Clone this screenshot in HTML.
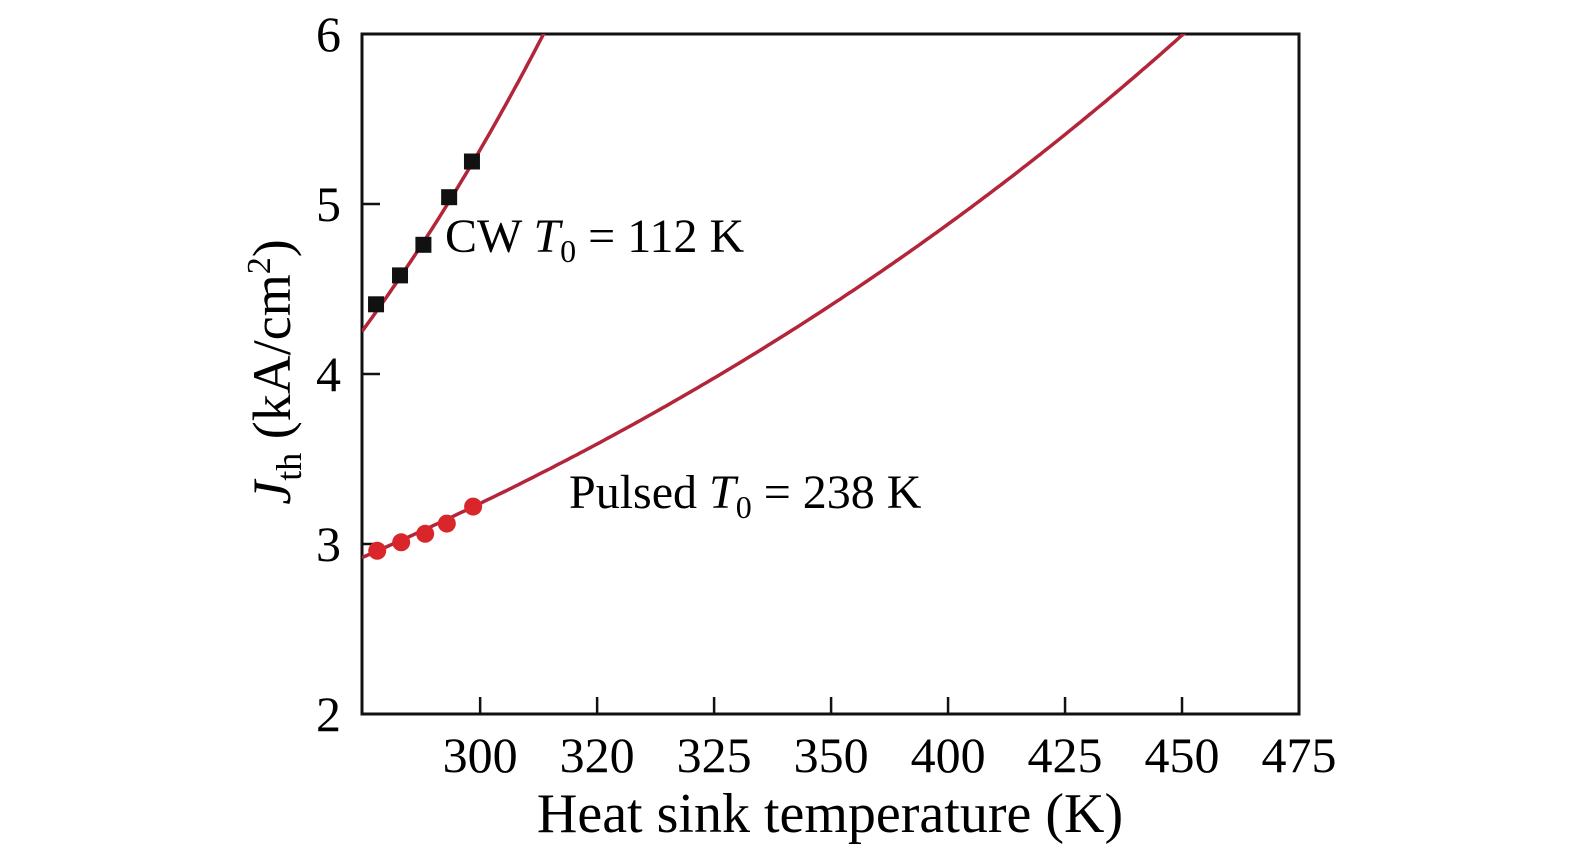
<!DOCTYPE html>
<html><head><meta charset="utf-8"><style>
html,body{margin:0;padding:0;background:#fff;}
svg{display:block;font-family:"Liberation Serif",serif;}
</style></head><body>
<svg id="chart" width="1575" height="852" viewBox="0 0 1575 852" xmlns="http://www.w3.org/2000/svg">
<g id="axes"></g>
<g id="series"></g>
<text x="445" y="252" font-size="48">CW <tspan font-style="italic">T</tspan><tspan font-size="32" dy="10">0</tspan><tspan dy="-10"> = 112 K</tspan></text>
<text x="569" y="508" font-size="48">Pulsed <tspan font-style="italic">T</tspan><tspan font-size="32" dy="10">0</tspan><tspan dy="-10"> = 238 K</tspan></text>
<text x="830" y="832" font-size="56" text-anchor="middle">Heat sink temperature (K)</text>
<text transform="translate(290,372) rotate(-90)" font-size="54" text-anchor="middle"><tspan font-style="italic">J</tspan><tspan font-size="36" dy="11">th</tspan><tspan dy="-11"> (kA/cm</tspan><tspan font-size="34" dy="-20">2</tspan><tspan dy="20">)</tspan></text>
</svg>
<script>
const xTickValues=[300,320,340,360,380,400,420,440];
const xTickLabels=["300","320","325","350","400","425","450","475"];
const yTickValues=[2,3,4,5,6];
const cwX=[282.2,286.3,290.3,294.7,298.6];
const cwY=[4.41,4.58,4.76,5.04,5.25];
const pulsedX=[282.4,286.5,290.6,294.3,298.8];
const pulsedY=[2.96,3.01,3.06,3.12,3.22];
const cwFit=[4.25,90];
const pulsedFit=[2.92,195];

const L=362,R=1299,T=34,B=714;
const xMin=279.8,xMax=300+(R-480)/117*20;
const yMin=2,yMax=6;
const sx=v=>L+(v-xMin)/(xMax-xMin)*(R-L);
const sy=v=>B-(v-yMin)/(yMax-yMin)*(B-T);
const NS="http://www.w3.org/2000/svg";
const ax=document.getElementById('axes'),se=document.getElementById('series');
function mk(tag,attrs,parent){const e=document.createElementNS(NS,tag);for(const k in attrs)e.setAttribute(k,attrs[k]);parent.appendChild(e);return e;}
const frame=mk('rect',{x:L,y:T,width:R-L,height:B-T,fill:'none',stroke:'#111','stroke-width':3},ax);


xTickValues.forEach((v,i)=>{
  const t=mk('line',{x1:sx(v),x2:sx(v),y1:B,y2:B-17,stroke:'#111','stroke-width':2.5},ax);
  
  
  const l=mk('text',{x:sx(v),y:772,'font-size':50,'text-anchor':'middle'},ax);
  l.textContent=xTickLabels[i];
  
  
});
yTickValues.forEach(v=>{
  const t=mk('line',{x1:L,x2:L+18,y1:sy(v),y2:sy(v),stroke:'#111','stroke-width':2.5},ax);
  
  
  const l=mk('text',{x:341,y:sy(v)+17,'font-size':50,'text-anchor':'end'},ax);
  l.textContent=v;
  
  
});
const clip=mk('clipPath',{id:'pc'},se);mk('rect',{x:L,y:T,width:R-L,height:B-T},clip);
function fitPath(p,name){
  let d='';for(let i=0;i<=300;i++){const v=xMin+(xMax-xMin)*i/300;const y=p[0]*Math.exp((v-xMin)/p[1]);d+=(i?'L':'M')+sx(v).toFixed(1)+','+sy(y).toFixed(1);}
  const e=mk('path',{d:d,fill:'none',stroke:'#b3263a','stroke-width':3.5,'clip-path':'url(#pc)'},se);
  
  
}
fitPath(cwFit,'cw-fit-line');
fitPath(pulsedFit,'pulsed-fit-line');
cwX.forEach((v,i)=>{
  const e=mk('rect',{x:sx(v)-8,y:sy(cwY[i])-8,width:16,height:16,fill:'#111'},se);
  
  
});
pulsedX.forEach((v,i)=>{
  const e=mk('circle',{cx:sx(v),cy:sy(pulsedY[i]),r:9,fill:'#d9262b'},se);
  
  
});
</script>
</body></html>
